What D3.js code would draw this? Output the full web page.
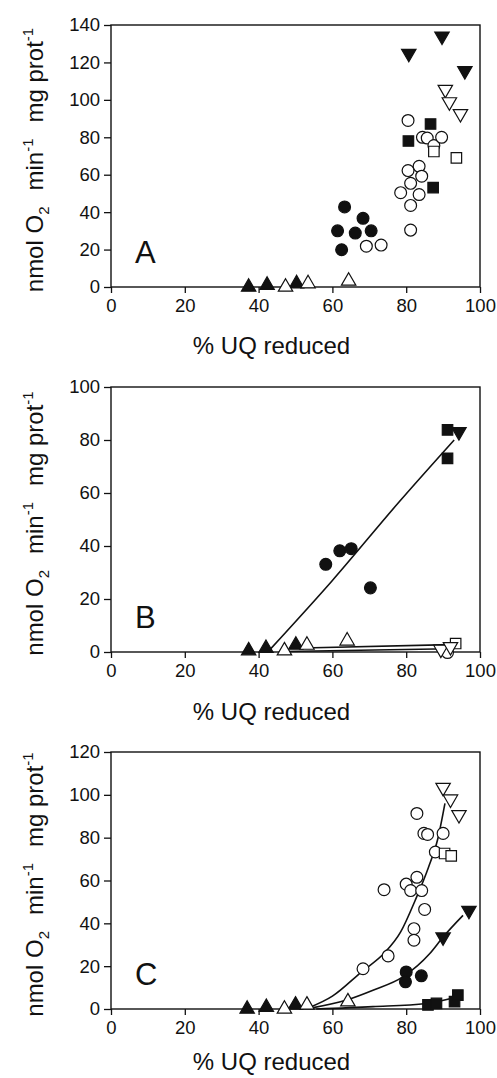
<!DOCTYPE html>
<html>
<head>
<meta charset="utf-8">
<script src="https://cdn.jsdelivr.net/npm/d3@7"></script>
<style>
  body { margin: 0; background: #fff; }
  text { font-family: "Liberation Sans", Arial, sans-serif; fill: #111; }
</style>
</head>
<body>
<svg id="chart"></svg>
<script>
// Data (x = % UQ reduced, y = nmol O2/min/mg prot)
const xTicks = [0, 20, 40, 60, 80, 100];

// Panel A
const aFilledUp = [[37.3, 0], [42.3, 1], [50.3, 1.8]];
const aOpenUp = [[47.3, 0], [53.4, 1.8], [64.4, 3.2]];
const aFilledCircle = [[63.3, 42.8], [68.3, 36.7], [61.4, 30], [66.2, 28.8], [70.5, 30], [62.5, 19.9]];
const aOpenCircle = [[69.2, 21.8], [73.2, 22.4], [80.5, 89], [84.4, 80], [85.7, 79.6], [87.5, 75.6],
  [89.6, 80], [80.5, 62.2], [83.5, 64.5], [84.2, 59.2], [81.2, 55.4], [78.5, 50.4], [83.5, 49.4],
  [81.2, 43.6], [81.2, 30.4]];
const aFilledSquare = [[86.6, 87.1], [80.6, 78], [87.3, 53.1]];
const aOpenSquare = [[87.5, 72.4], [93.6, 69]];
const aFilledDown = [[80.7, 124.8], [89.7, 134], [95.9, 115.5]];
const aOpenDown = [[90.6, 105.5], [91.7, 98.9], [94.7, 92.6]];

// Panel B
const bFilledUp = [[37.3, 0.5], [42, 1.4], [50.1, 2.6]];
const bOpenUp = [[47, 0.5], [53.1, 2.6], [64, 4.2]];
const bFilledCircle = [[58.2, 33.1], [62, 38.2], [65.1, 39], [70.3, 24.2]];
const bOpenCircle = [[91.2, -0.2]];
const bFilledSquare = [[91.2, 83.8], [91.2, 73.1]];
const bOpenSquare = [[93.4, 3.2]];
const bFilledDown = [[94.3, 83.1]];
const bOpenDown = [[89.4, 1], [92, 2]];
const bFit1 = [[43, 0.8], [60, 27], [78, 56.5], [93, 80]];
const bFit2 = [[47, 0.2], [92, 1.2]];
const bFit3 = [[52, 1.5], [92, 2.8]];

// Panel C
const cFilledUp = [[36.9, 0], [42.1, 0.8], [50, 1.9]];
const cOpenUp = [[47, 0], [53.1, 1.9], [64.2, 3.4]];
const cFilledCircle = [[80, 17.3], [79.8, 12.7], [84.1, 15.5]];
const cOpenCircle = [[82.9, 91.3], [84.8, 82], [85.8, 81.5], [90, 82], [87.9, 73.3], [82.9, 61.5],
  [80, 58.3], [81.2, 55.3], [84.2, 55.3], [74, 55.7], [85, 46.5], [82.1, 37.5], [82.1, 32.1],
  [75.1, 24.8], [68.3, 18.8]];
const cFilledSquare = [[85.9, 1.9], [88.2, 2.6], [93.1, 3.4], [94, 6.5]];
const cOpenSquare = [[90.4, 72.6], [92.2, 71.5]];
const cFilledDown = [[90, 33.6], [97, 46]];
const cOpenDown = [[90, 103.4], [92, 98], [94.3, 90.7]];
const cFit1 = [[53.5, 0.5], [60, 6], [68, 17.5], [74, 26], [78.5, 36], [82.5, 51], [86, 66], [88.5, 79], [90.5, 96]];
const cFit2 = [[53.8, 0.3], [63.8, 4.2], [71, 8.8], [79.1, 15], [86.4, 25.9], [90, 33.6], [95.4, 43.7]];
const cFit3 = [[55.6, 0], [71, 1.1], [85.4, 2.6], [94.5, 6]];

const panels = [
  { letter: "A", yMax: 140, top: 25, bottom: 287, titleDy: 67,
    series: { filledUp: aFilledUp, openUp: aOpenUp, filledCircle: aFilledCircle, openCircle: aOpenCircle,
      filledSquare: aFilledSquare, openSquare: aOpenSquare, filledDown: aFilledDown, openDown: aOpenDown },
    fits: [] },
  { letter: "B", yMax: 100, top: 387, bottom: 652, titleDy: 68,
    series: { filledUp: bFilledUp, openUp: bOpenUp, filledCircle: bFilledCircle, openCircle: bOpenCircle,
      filledSquare: bFilledSquare, openSquare: bOpenSquare, filledDown: bFilledDown, openDown: bOpenDown },
    fits: [bFit1, bFit2, bFit3] },
  { letter: "C", yMax: 120, top: 752, bottom: 1009, titleDy: 61,
    series: { filledUp: cFilledUp, openUp: cOpenUp, filledCircle: cFilledCircle, openCircle: cOpenCircle,
      filledSquare: cFilledSquare, openSquare: cOpenSquare, filledDown: cFilledDown, openDown: cOpenDown },
    fits: [cFit1, cFit2, cFit3] }
];

const width = 497, height = 1078;
const left = 111, right = 480;

const svg = d3.select("#chart")
  .attr("width", width)
  .attr("height", height);

// marker shapes
const markers = {
  filledUp:     { type: d3.symbolTriangle, size: 90, fill: "#111", rot: 0 },
  openUp:       { type: d3.symbolTriangle, size: 90, fill: "#fff", rot: 0 },
  filledDown:   { type: d3.symbolTriangle, size: 90, fill: "#111", rot: 180 },
  openDown:     { type: d3.symbolTriangle, size: 90, fill: "#fff", rot: 180 },
  filledCircle: { type: d3.symbolCircle, size: 110, fill: "#111", rot: 0 },
  openCircle:   { type: d3.symbolCircle, size: 110, fill: "#fff", rot: 0 },
  filledSquare: { type: d3.symbolSquare, size: 110, fill: "#111", rot: 0 },
  openSquare:   { type: d3.symbolSquare, size: 110, fill: "#fff", rot: 0 }
};

const x = d3.scaleLinear().domain([0, 100]).range([left, right]);

panels.forEach(p => {
  const y = d3.scaleLinear().domain([0, p.yMax]).range([p.bottom, p.top]);
  const g = svg.append("g");

  // frame
  g.append("rect")
    .attr("x", left).attr("y", p.top)
    .attr("width", right - left).attr("height", p.bottom - p.top)
    .attr("fill", "none").attr("stroke", "#111").attr("stroke-width", 1.4);

  const xAxis = g.append("g")
    .attr("transform", `translate(0,${p.bottom})`)
    .call(d3.axisBottom(x).tickValues(xTicks).tickSize(6).tickSizeOuter(0).tickPadding(6));
  const yAxis = g.append("g")
    .attr("transform", `translate(${left},0)`)
    .call(d3.axisLeft(y).ticks(p.yMax / 20).tickSize(7).tickSizeOuter(0).tickPadding(4));

  [xAxis, yAxis].forEach(a => {
    a.select(".domain").remove();
    a.selectAll("line").attr("stroke", "#111").attr("stroke-width", 1.3);
    a.selectAll("text")
      .style("font-family", '"Liberation Sans", Arial, sans-serif')
      .style("font-size", "18.5px").attr("fill", "#111");
  });

  // x title
  g.append("text")
    .attr("x", (left + right) / 2 - 24).attr("y", p.bottom + p.titleDy)
    .attr("text-anchor", "middle")
    .style("font-size", "24px")
    .text("% UQ reduced");

  // y title
  const yt = g.append("text")
    .attr("transform", `translate(43,${(p.top + p.bottom) / 2 + 4}) rotate(-90)`)
    .attr("text-anchor", "middle")
    .style("font-size", "24px");
  yt.append("tspan").text("nmol O");
  yt.append("tspan").attr("dy", 6).style("font-size", "15px").text("2");
  yt.append("tspan").attr("dy", -6).attr("dx", 16).text("min");
  yt.append("tspan").attr("dy", -10).style("font-size", "15px").text("-1");
  yt.append("tspan").attr("dy", 10).attr("dx", 16).text("mg prot");
  yt.append("tspan").attr("dy", -10).style("font-size", "15px").text("-1");

  // panel letter
  g.append("text")
    .attr("x", 135).attr("y", p.bottom - 24)
    .style("font-size", "31px")
    .text(p.letter);

  // fitted curves
  const line = d3.line()
    .x(d => x(d[0])).y(d => y(d[1]))
    .curve(d3.curveMonotoneX);
  g.selectAll("path.fit")
    .data(p.fits)
    .enter().append("path")
    .attr("class", "fit")
    .attr("d", line)
    .attr("fill", "none").attr("stroke", "#111").attr("stroke-width", 1.6);

  // markers
  Object.keys(p.series).forEach(key => {
    const m = markers[key];
    const sym = d3.symbol().type(m.type).size(m.size);
    g.selectAll(null)
      .data(p.series[key])
      .enter().append("path")
      .attr("d", sym)
      .attr("transform", d => `translate(${x(d[0])},${y(d[1])}) rotate(${m.rot})`)
      .attr("fill", m.fill)
      .attr("stroke", "#111").attr("stroke-width", 1.2);
  });
});
</script>
</body>
</html>
